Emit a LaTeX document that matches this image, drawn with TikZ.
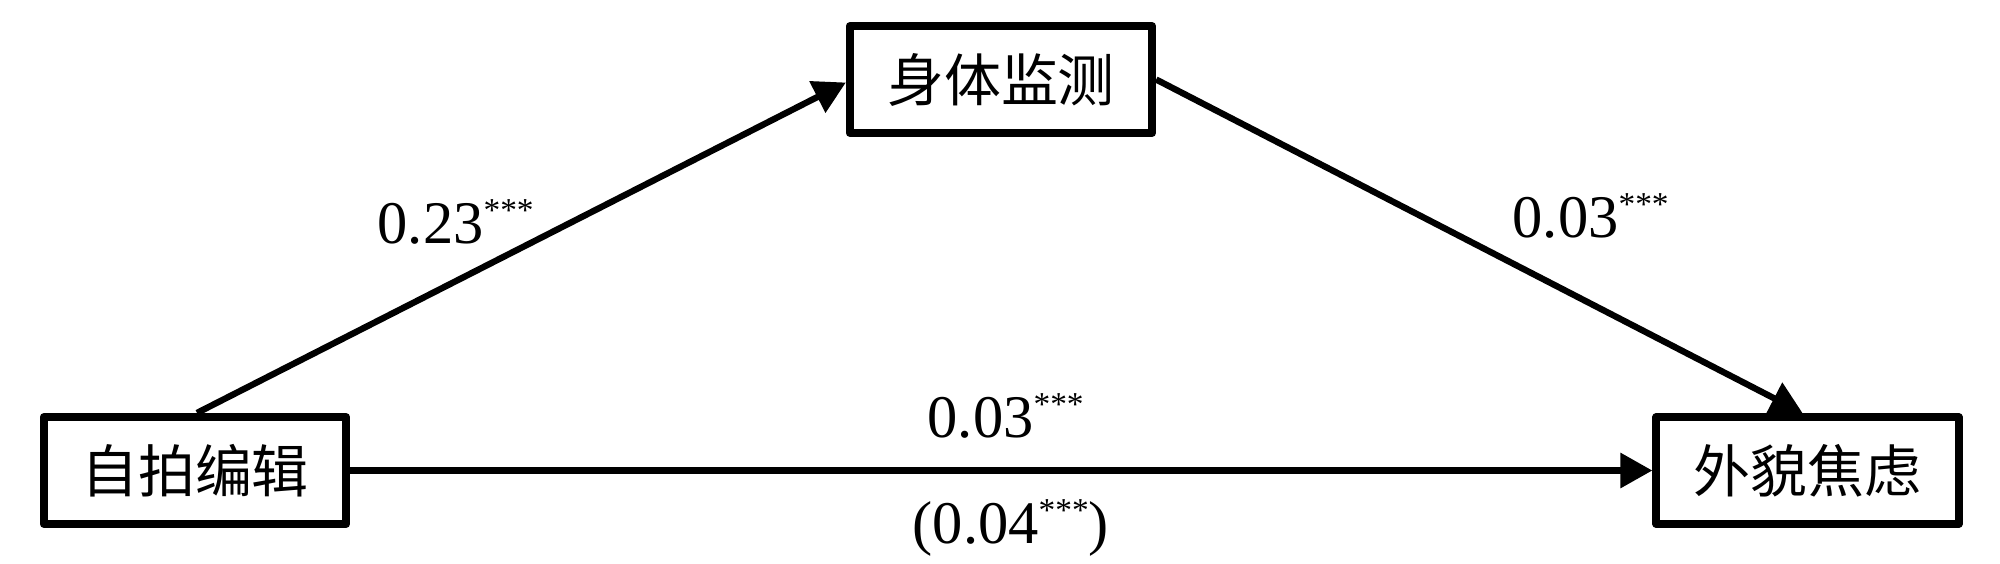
\documentclass[tikz,border=0pt]{standalone}
\usepackage{fontspec}
\setmainfont{Liberation Serif}
\newfontfamily\cjk{Noto Sans CJK SC}
\usetikzlibrary{arrows.meta,calc}
\newcommand{\stars}{{\fontsize{9.5}{9.5}\selectfont\raisebox{6pt}{***}}}
\begin{document}
\begin{tikzpicture}[x=0.01cm,y=-0.01cm,
  varbox/.style={draw, line width=2.3pt, line join=round, minimum width=3.02cm, minimum height=1.07cm, inner sep=0pt, font=\cjk\fontsize{16.2}{16.2}\selectfont},
  conn/.style={line width=1.8pt, -{Triangle[length=0.32cm,width=0.34cm]}},
  lab/.style={anchor=base west, inner sep=0pt, font=\fontsize{17.2}{17.2}\selectfont}]
\useasboundingbox (0,0) rectangle (2000,563);
\node[varbox] (b) at (1001,79.5) {身体监测};
\node[varbox] (a) at (195,470.5) {自拍编辑};
\node[varbox] (c) at (1807.5,470.5) {外貌焦虑};
\draw[conn] ($(a.north)+(2,0)$) -- ($(b.west)+(0,3)$);
\draw[conn] (b.east) -- ($(c.north)+(-5,0)$);
\draw[conn] (a.east) -- (c.west);
\node[lab] (l1) at (377,243) {0.23\stars};
\node[lab] (l2) at (1512,237) {0.03\stars};
\node[lab] (l3) at (927,437) {0.03\stars};
\node[lab] (l4) at (912,543) {(0.04\stars)};
\end{tikzpicture}
\end{document}
